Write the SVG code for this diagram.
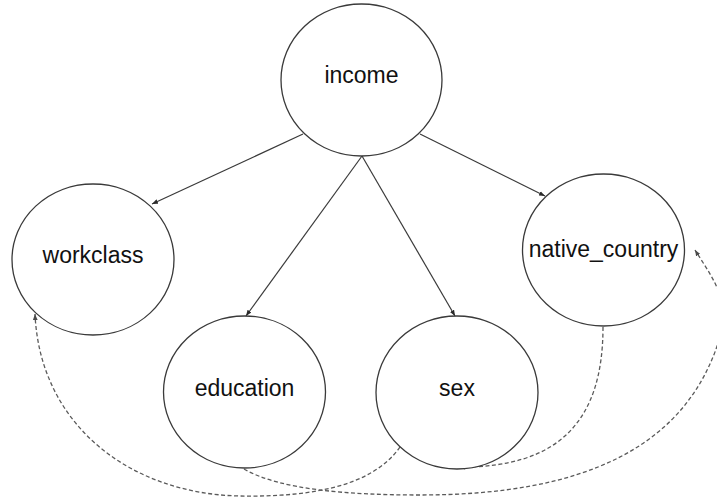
<svg xmlns="http://www.w3.org/2000/svg" width="717" height="499" viewBox="0 0 717 499">
  <style>
    .node ellipse { fill: #ffffff; stroke: #3a3a3a; stroke-width: 1.3; }
    .node text { font-family: "Liberation Sans", Arial, Helvetica, sans-serif; font-size: 23px; fill: #111111; text-anchor: middle; }
    .edge { fill: none; stroke: #3a3a3a; stroke-width: 1.2; marker-end: url(#arrow); }
    .dash { fill: none; stroke: #5a5a5a; stroke-width: 1.3; stroke-dasharray: 4 2.5; marker-end: url(#arrow-gray); }
  </style>
  <defs>
    <marker id="arrow" viewBox="0 0 10 8" refX="10" refY="4" markerWidth="6" markerHeight="5" markerUnits="userSpaceOnUse" orient="auto">
      <path d="M0,0 L10,4 L0,8 Z" fill="#2a2a2a"/>
    </marker>
    <marker id="arrow-gray" viewBox="0 0 10 8" refX="10" refY="4" markerWidth="6" markerHeight="5" markerUnits="userSpaceOnUse" orient="auto">
      <path d="M0,0 L10,4 L0,8 Z" fill="#4a4a4a"/>
    </marker>
  </defs>

  <rect width="717" height="499" fill="#ffffff"/>

  <g id="connectors">
    <!-- income to its children -->
    <path class="edge" d="M303,134 L152,204"/>
    <path class="edge" d="M362,156 L246,316"/>
    <path class="edge" d="M362,156 L455,316"/>
    <path class="edge" d="M420,134 L545,196"/>
    <!-- dashed links along the bottom -->
    <path class="dash" d="M603,327 C603,420 560,468 459,467"/>
    <path class="dash" d="M400,447 C370,490 300,497 240,496 C130,494 40,425 35,314"/>
    <path class="dash" d="M244,469 C280,490 350,495 420,495 C580,495 690,450 722,330 C730,300 710,274 695,250"/>
  </g>

  <g id="node-income" class="node">
    <ellipse cx="361.5" cy="80" rx="80.5" ry="76"/>
    <text x="361.5" y="82.5">income</text>
  </g>
  <g id="node-workclass" class="node">
    <ellipse cx="93" cy="259.5" rx="81" ry="75.5"/>
    <text x="93" y="263">workclass</text>
  </g>
  <g id="node-education" class="node">
    <ellipse cx="244.5" cy="392" rx="81" ry="76"/>
    <text x="244.5" y="396">education</text>
  </g>
  <g id="node-sex" class="node">
    <ellipse cx="457" cy="392.5" rx="81" ry="76.5"/>
    <text x="457" y="396">sex</text>
  </g>
  <g id="node-native_country" class="node">
    <ellipse cx="603.5" cy="250" rx="81" ry="76"/>
    <text x="603.5" y="257">native_country</text>
  </g>
</svg>
